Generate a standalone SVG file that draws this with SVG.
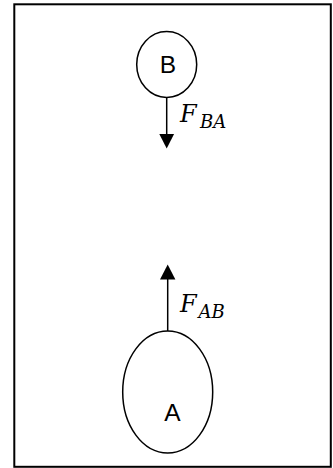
<svg xmlns="http://www.w3.org/2000/svg" width="333" height="468" viewBox="0 0 333 468">
  <style>
    .frame { fill: #ffffff; stroke: #000000; stroke-width: 2; }
    .body { fill: #ffffff; stroke: #000000; stroke-width: 1.5; }
    .name { font-family: "Liberation Sans", Arial, sans-serif; font-size: 24.5px; fill: #000000; }
    .force { stroke: #000000; stroke-width: 1.5; fill: none; }
    .sym { font-family: "DejaVu Serif", serif; font-style: italic; fill: #000000; }
  </style>

  <rect class="frame" x="14.3" y="4.3" width="316.5" height="462.5"/>

  <g id="node-B">
    <ellipse class="body" cx="166.7" cy="64.5" rx="30" ry="33"/>
    <text class="name" x="167.8" y="73.3" text-anchor="middle">B</text>
  </g>

  <g id="node-A">
    <ellipse class="body" cx="167.7" cy="392" rx="45" ry="61"/>
    <text class="name" x="172.5" y="420.7" text-anchor="middle">A</text>
  </g>

  <g id="connectors">
    <line class="force" x1="166.7" y1="97.5" x2="166.7" y2="134"/>
    <path d="M159.3,134 L174.1,134 L166.7,148.5 Z" fill="#000000"/>
    <line class="force" x1="167.7" y1="331" x2="167.7" y2="279"/>
    <path d="M160,279.5 L175.4,279.5 L167.7,264.5 Z" fill="#000000"/>
  </g>

  <g id="label-FBA">
    <text class="sym" x="180" y="121.7" font-size="24">F</text>
    <text class="sym" x="200" y="128.3" font-size="18">BA</text>
  </g>
  <g id="label-FAB">
    <text class="sym" x="180" y="312.3" font-size="24">F</text>
    <text class="sym" x="198.5" y="318.3" font-size="18">AB</text>
  </g>
</svg>
